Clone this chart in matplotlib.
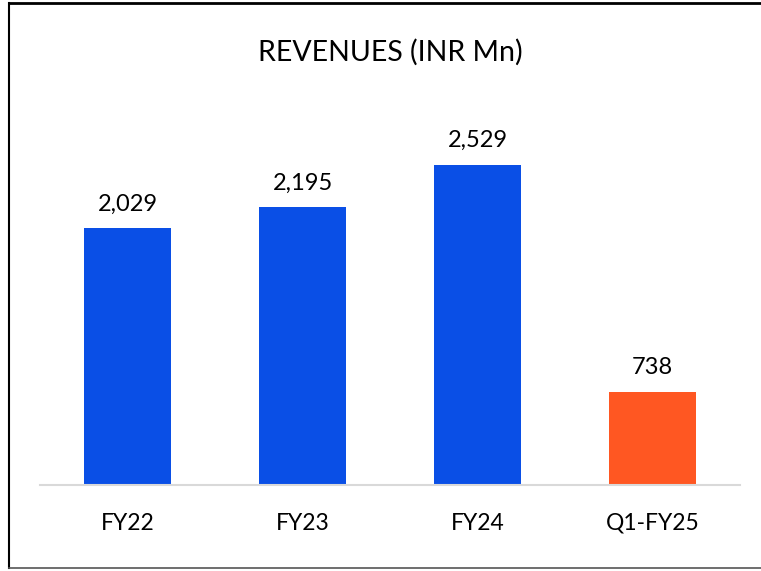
import matplotlib
matplotlib.use("Agg")
import matplotlib.pyplot as plt
from matplotlib.lines import Line2D

categories = ["FY22", "FY23", "FY24", "Q1-FY25"]
values = [2029, 2195, 2529, 738]
labels = ["2,029", "2,195", "2,529", "738"]
colors = ["#0A4FE6", "#0A4FE6", "#0A4FE6", "#FF5722"]

plt.rcParams['font.family'] = ['Lato', 'DejaVu Sans']

W, H = 761, 571
fig = plt.figure(figsize=(W/100, H/100), dpi=100)
ax = fig.add_axes([40/W, (H-485)/H, 700/W, 385/H])
x = range(len(categories))
ax.bar(x, values, width=0.5, color=colors, zorder=2)
ax.set_xlim(-0.5, 3.5)
ax.set_ylim(0, 385/0.1265)
for i, (v, l) in enumerate(zip(values, labels)):
    ax.text(i, v + 110, l, ha='center', va='bottom', fontsize=17, color='black')
ax.set_xticks(list(x))
ax.set_xticklabels(categories, fontsize=16.5)
ax.tick_params(axis='x', length=0, pad=20)
ax.set_yticks([])
for s in ['top', 'right', 'left']:
    ax.spines[s].set_visible(False)
ax.spines['bottom'].set_color('#D9D9D9')
ax.spines['bottom'].set_linewidth(1.5)

fig.text(390/W, 1 - 52/H, "REVENUES (INR Mn)", ha='center', va='center', fontsize=20.5)

# outer frame lines
fig.add_artist(Line2D([9/W, 1], [1-3/H, 1-3/H], color='black', lw=2, transform=fig.transFigure))
fig.add_artist(Line2D([9/W, 9/W], [1-3/H, 1-568/H], color='black', lw=1.5, transform=fig.transFigure))
fig.add_artist(Line2D([9/W, 1], [1-568/H, 1-568/H], color='#555555', lw=1.2, transform=fig.transFigure))

fig.savefig("out.png", dpi=100)
